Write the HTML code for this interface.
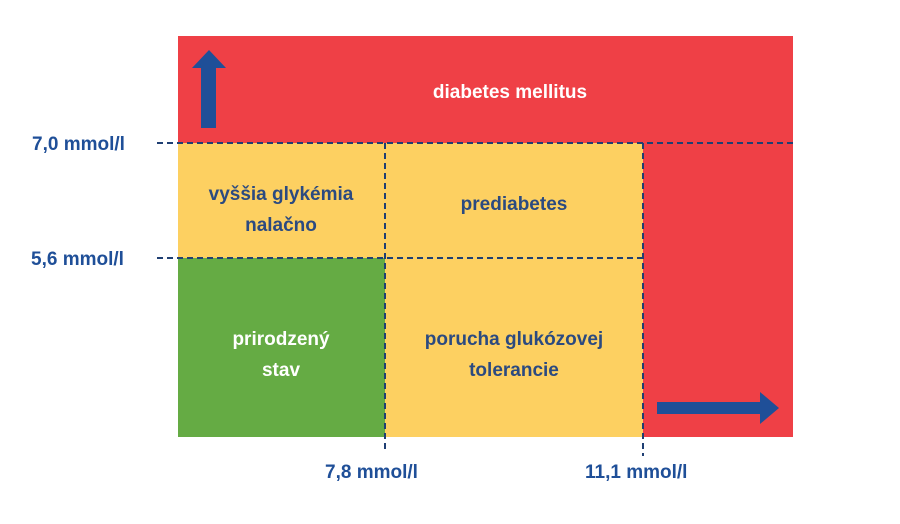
<!DOCTYPE html>
<html><head><meta charset="utf-8"><style>
body{margin:0;background:#fff;width:900px;height:519px;overflow:hidden}
text{font-family:"Liberation Sans",sans-serif;font-weight:bold}
</style></head><body>
<svg width="900" height="519">
<rect x="178" y="36" width="615" height="401" fill="#ef4046"/>
<rect x="178" y="143" width="465" height="294" fill="#fdd061"/>
<rect x="178" y="258" width="207" height="179" fill="#65ab44"/>
<g stroke="#1f3f73" stroke-width="2" stroke-dasharray="6,4" fill="none">
<line x1="157" y1="143" x2="793" y2="143"/>
<line x1="157" y1="258" x2="643" y2="258"/>
<line x1="385" y1="143" x2="385" y2="452"/>
<line x1="643" y1="143" x2="643" y2="456"/>
</g>
<polygon points="201,128 216,128 216,68 226,68 209,50 192,68 201,68" fill="#1f4f98"/>
<polygon points="657,402 760,402 760,392 779,408 760,424 760,414 657,414" fill="#1f4f98"/>
<g fill="#fff" font-size="19" text-anchor="middle">
<text x="510" y="98">diabetes mellitus</text>
<text x="281" y="345">prirodzený</text>
<text x="281" y="376">stav</text>
</g>
<g fill="#2b4a80" font-size="19" text-anchor="middle">
<text x="281" y="200">vyššia glykémia</text>
<text x="281" y="231">nalačno</text>
<text x="514" y="210">prediabetes</text>
<text x="514" y="345">porucha glukózovej</text>
<text x="514" y="376">tolerancie</text>
</g>
<g fill="#1f4f98" font-size="19">
<text x="32" y="150">7,0 mmol/l</text>
<text x="31" y="265">5,6 mmol/l</text>
<text x="325" y="478">7,8 mmol/l</text>
<text x="585" y="478">11,1 mmol/l</text>
</g>
</svg>
</body></html>
